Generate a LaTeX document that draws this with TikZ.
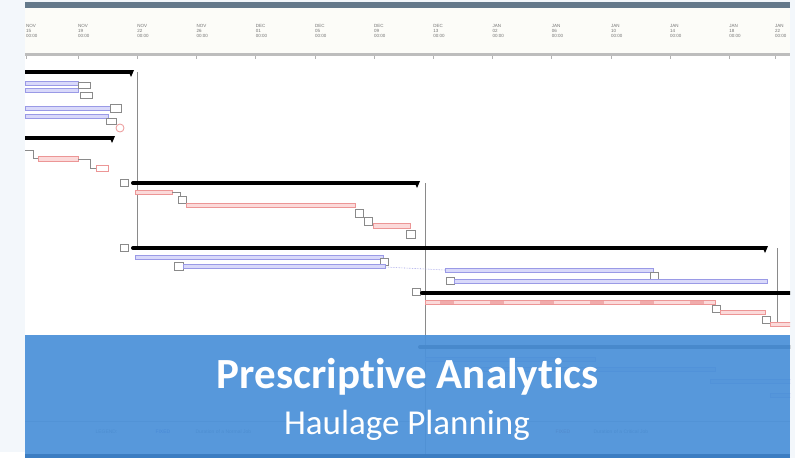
\documentclass[tikz,border=0pt]{standalone}
\usepackage{fontspec}
\setmainfont{Carlito}[Ligatures=NoCommon]
\newfontfamily\tinyfont{Liberation Sans}
\definecolor{pagebg}{HTML}{F3F7FB}
\definecolor{slate}{HTML}{64798B}
\definecolor{headbg}{HTML}{FCFCF8}
\definecolor{headline}{HTML}{BDBDBD}
\definecolor{blueline}{HTML}{9A9AE6}
\definecolor{bluefill}{HTML}{D9D9FA}
\definecolor{redline}{HTML}{EC9696}
\definecolor{redfill}{HTML}{FBDADA}
\definecolor{banner}{HTML}{4D92D9}
\definecolor{bannerdark}{HTML}{3C7DC2}
\definecolor{depgray}{HTML}{8A8A8A}
\tikzset{
  sumbar/.style={line width=4pt, black, line cap=round},
  bluebar/.style={draw=blueline, fill=bluefill, line width=0.6pt},
  redbar/.style={draw=redline, fill=redfill, line width=0.6pt},
  linkbox/.style={draw=depgray, fill=white, line width=0.5pt},
  depline/.style={draw=depgray, line width=0.6pt},
  scalelabel/.style={font=\tinyfont\fontsize{4.5}{5}\selectfont, text=black!55, anchor=north west, align=left, inner sep=0pt},
  legendtext/.style={font=\tinyfont\fontsize{5}{6}\selectfont, text=black!70, anchor=west},
  titletext/.style={font=\bfseries\fontsize{43}{46}\selectfont, text=white},
  subtext/.style={font=\fontsize{35}{38}\selectfont, text=white},
}
\begin{document}
\begin{tikzpicture}[x=1pt,y=-1pt]
\useasboundingbox (0,0) rectangle (795,458);
% page and chart canvas
\fill[pagebg] (0,0) rectangle (795,458);
\fill[white] (25,8) rectangle (790,458);
\fill[white] (0,452) rectangle (25,458);
\fill[slate] (25,2) rectangle (790,8);
\fill[headbg] (25,8) rectangle (790,53);
\fill[headline] (25,53) rectangle (790,56);

\begin{scope}
\clip (25,8) rectangle (790,458);
% time scale
\foreach \x/\m/\d in {26/NOV/15, 78/NOV/19, 137.2/NOV/22, 196.4/NOV/26, 255.6/DEC/01,
  314.8/DEC/05, 374/DEC/09, 433.2/DEC/13, 492.4/JAN/02, 551.6/JAN/06, 610.8/JAN/10,
  670/JAN/14, 729.2/JAN/18, 775/JAN/22} {
  \node[scalelabel] at (\x,24) {\m\\\d\\00:00};
  \draw[gray!60, line width=0.5pt] (\x,56) -- (\x,59);
}

% group 1
\draw[depline] (137,72) -- (137,247);
\draw[sumbar] (25,72) -- (131,72);
\fill[black] (128,70) -- (134,70) -- (131,77) -- cycle;
\draw[bluebar] (25,81) rectangle (78,85);
\draw[bluebar] (25,88) rectangle (78,92);
\draw[linkbox] (78,82) rectangle (90,88);
\draw[linkbox] (80,92) rectangle (92,98);
\draw[bluebar] (25,106) rectangle (110,110);
\draw[bluebar] (25,114) rectangle (108,118);
\draw[linkbox] (110,104) rectangle (121,112);
\draw[linkbox] (106,118) rectangle (116,124);
\draw[redline, line width=0.8pt] (120,128) circle (4);
\draw[sumbar] (25,138) -- (112,138);
\fill[black] (109,136) -- (115,136) -- (112,143) -- cycle;
\draw[depline] (25,150) -- (33,150) -- (33,158) -- (38,158);
\draw[redbar] (38,156) rectangle (78,161);
\draw[depline] (78,159) -- (90,159) -- (90,168) -- (96,168);
\draw[linkbox, draw=redline] (96,165) rectangle (108,171);

% group 2
\draw[depline] (425,183) -- (425,458);
\draw[linkbox] (120,179) rectangle (128,186);
\draw[sumbar] (133,183) -- (417,183);
\fill[black] (414,181) -- (420,181) -- (417,188) -- cycle;
\draw[redbar] (135,190) rectangle (172,194);
\draw[depline] (172,192) -- (180,192) -- (180,199);
\draw[linkbox] (178,196) rectangle (186,203);
\draw[redbar] (186,203) rectangle (355,207);
\draw[linkbox] (355,209) rectangle (363,217);
\draw[linkbox] (364,217) rectangle (372,225);
\draw[redbar] (373,223) rectangle (410,228);
\draw[linkbox] (406,230) rectangle (415,238);

% group 3
\draw[depline] (777,248) -- (777,325);
\draw[linkbox] (120,244) rectangle (128,251);
\draw[sumbar] (133,248) -- (765,248);
\fill[black] (762,246) -- (768,246) -- (765,253) -- cycle;
\draw[bluebar] (135,255) rectangle (383,259);
\draw[linkbox] (380,258) rectangle (388,265);
\draw[linkbox] (174,262) rectangle (183,270);
\draw[bluebar] (183,264) rectangle (385,268);
\draw[blueline, line width=0.6pt, densely dotted] (385,267) -- (445,270);
\draw[bluebar] (445,268) rectangle (653,272);
\draw[linkbox] (650,272) rectangle (658,279);
\draw[linkbox] (446,277) rectangle (454,284);
\draw[bluebar] (454,279) rectangle (767,283);

% group 4
\draw[linkbox] (412,288) rectangle (420,295);
\draw[sumbar] (422,293) -- (795,293);
\draw[redbar] (425,300) rectangle (715,304);
\foreach \x in {440,490,540,590,640,690} {
  \fill[redline!80] (\x,300.5) rectangle (\x+14,303.5);
}
\draw[linkbox] (712,305) rectangle (720,312);
\draw[redbar] (720,310) rectangle (765,314);
\draw[linkbox] (762,316) rectangle (770,323);
\draw[redbar] (770,322) rectangle (795,326);

% rows continuing underneath the banner
\draw[sumbar] (420,347) -- (795,347);
\draw[bluebar] (425,357) rectangle (595,361);
\draw[bluebar] (470,367) rectangle (715,371);
\draw[bluebar] (710,379) rectangle (795,383);
\draw[bluebar] (770,393) rectangle (795,397);
\draw[gray!70, line width=0.8pt] (25,421) -- (790,421);
\node[legendtext] (lg) at (92,432) {LEGEND:};
\node[legendtext, text=blue!70!black] (lga) at (152,432) {FIXED};
\node[legendtext] (lgb) at (192,432) {Duration of a Normal Job};
\node[legendtext, text=red!60!black] (lgc) at (552,432) {FIXED};
\node[legendtext] (lgd) at (590,432) {Duration of a Critical Job};
\end{scope}

% title banner
\fill[banner, opacity=0.94] (25,335) rectangle (790,454);
\fill[bannerdark] (25,454) rectangle (790,458);
\node[titletext, anchor=base] (title) at (408,388) {Prescriptive Analytics};
\node[subtext, anchor=base] (subtitle) at (407,434) {Haulage Planning};
\end{tikzpicture}
\end{document}
